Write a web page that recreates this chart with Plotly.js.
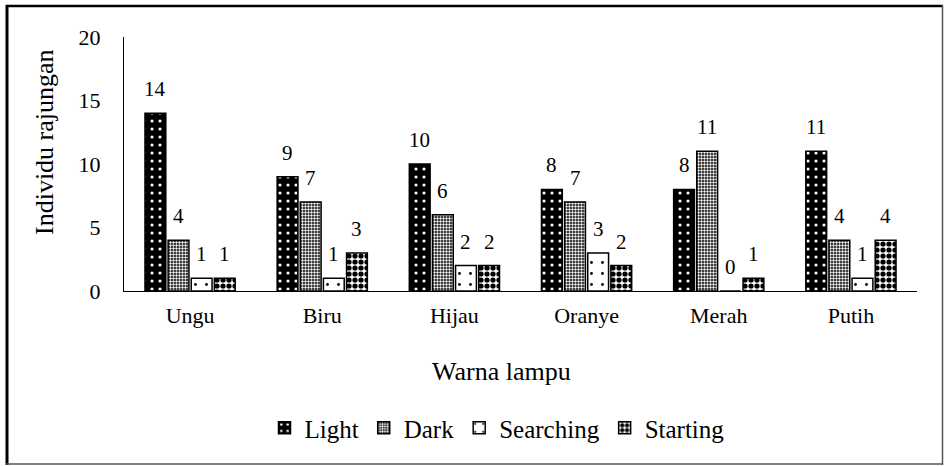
<!DOCTYPE html>
<html>
<head>
<meta charset="utf-8">
<script src="https://cdn.plot.ly/plotly-3.0.1.min.js"></script>
<style>
  html, body { margin: 0; padding: 0; background: #fff; }
  #chart { width: 947px; height: 466px; }
</style>
</head>
<body>
<div id="chart"></div>
<script>
// ---- data ----
const categories = ['Ungu', 'Biru', 'Hijau', 'Oranye', 'Merah', 'Putih'];
const seriesNames = ['Light', 'Dark', 'Searching', 'Starting'];
const light = [14, 9, 10, 8, 8, 11];
const dark = [4, 7, 6, 7, 11, 4];
const searching = [1, 1, 2, 3, 0, 1];
const starting = [1, 3, 2, 2, 1, 4];
const yTickVals = [0, 5, 10, 15, 20];
const xTitle = 'Warna lampu';
const yTitle = 'Individu rajungan';

// ---- styling ----
const FONT = 'Liberation Serif, Times New Roman, serif';
const BARGAP = 0.30;
const BARGROUPGAP = 0.10;
const patterns = [
  {shape: '.', fgcolor: '#ffffff', bgcolor: '#000000', size: 8, solidity: 0.12},
  {shape: '.', fgcolor: '#ffffff', bgcolor: '#000000', size: 3, solidity: 0.5},
  {shape: '.', fgcolor: '#000000', bgcolor: '#ffffff', size: 11, solidity: 0.05},
  {shape: '.', fgcolor: '#000000', bgcolor: '#ffffff', size: 6, solidity: 0.6}
];
const allSeries = [light, dark, searching, starting];

const traces = allSeries.map((vals, j) => ({
  type: 'bar',
  name: seriesNames[j],
  x: categories,
  y: vals,
  marker: {
    color: patterns[j].bgcolor,
    line: {color: '#000000', width: 1.5},
    pattern: patterns[j]
  },
  hoverinfo: 'x+y+name'
}));

// value labels above each bar, placed through the category axis
const nSeries = allSeries.length;
const groupW = 1 - BARGAP;
const slotW = groupW / nSeries;
const annotations = [];
allSeries.forEach((vals, j) => {
  const off = -groupW / 2 + slotW * (j + 0.5);
  vals.forEach((v, i) => {
    annotations.push({
      xref: 'x', yref: 'y',
      x: i + off, y: v,
      text: String(v),
      showarrow: false,
      yanchor: 'bottom',
      yshift: 10,
      font: {family: FONT, size: 21, color: '#000'}
    });
  });
});

// axis titles as annotations (placed where the reference has them)
const L = 124, R = 917, T = 37, B = 291;
const px = (v) => (v - L) / (R - L);
const py = (v) => (B - v) / (B - T);
annotations.push({
  xref: 'paper', yref: 'paper', x: px(501), y: py(372),
  text: xTitle, showarrow: false, xanchor: 'center', yanchor: 'middle',
  font: {family: FONT, size: 26, color: '#000'}
});
annotations.push({
  xref: 'paper', yref: 'paper', x: px(44), y: py(142),
  text: yTitle, showarrow: false, textangle: -90, xanchor: 'center', yanchor: 'middle',
  font: {family: FONT, size: 26, color: '#000'}
});

// outer frame
const shapes = [
  {type: 'line', xref: 'paper', yref: 'paper', x0: px(7), x1: px(7), y0: py(5), y1: py(465), line: {color: '#000', width: 3}},
  {type: 'line', xref: 'paper', yref: 'paper', x0: px(6), x1: px(943), y0: py(6), y1: py(6), line: {color: '#000', width: 2.5}},
  {type: 'line', xref: 'paper', yref: 'paper', x0: px(942.5), x1: px(942.5), y0: py(5), y1: py(465), line: {color: '#555', width: 1.5}},
  {type: 'line', xref: 'paper', yref: 'paper', x0: px(6), x1: px(943), y0: py(464), y1: py(464), line: {color: '#555', width: 1.5}}
];

const layout = {
  width: 947, height: 466,
  margin: {l: L, r: 947 - R, t: T, b: 466 - B, pad: 0},
  paper_bgcolor: '#ffffff',
  plot_bgcolor: '#ffffff',
  font: {family: FONT, color: '#000'},
  barmode: 'group',
  bargap: BARGAP,
  bargroupgap: BARGROUPGAP,
  showlegend: true,
  legend: {
    orientation: 'h',
    x: px(497), xanchor: 'center',
    y: py(428), yanchor: 'middle',
    font: {family: FONT, size: 25, color: '#000'},
    itemwidth: 30,
    tracegroupgap: 0,
    bgcolor: 'rgba(0,0,0,0)'
  },
  xaxis: {
    type: 'category',
    showline: true, linecolor: '#000', linewidth: 1,
    ticks: '', showgrid: false, zeroline: false,
    tickfont: {family: FONT, size: 22, color: '#000'},
    ticklabelstandoff: 5,
    fixedrange: true
  },
  yaxis: {
    range: [0, 20],
    tickvals: yTickVals,
    showline: true, linecolor: '#000', linewidth: 1,
    ticks: '', showgrid: false, zeroline: false,
    tickfont: {family: FONT, size: 22, color: '#000'},
    ticklabelstandoff: 18,
    fixedrange: true
  },
  annotations: annotations,
  shapes: shapes
};

Plotly.newPlot('chart', traces, layout, {displayModeBar: false, staticPlot: true});
</script>
</body>
</html>
